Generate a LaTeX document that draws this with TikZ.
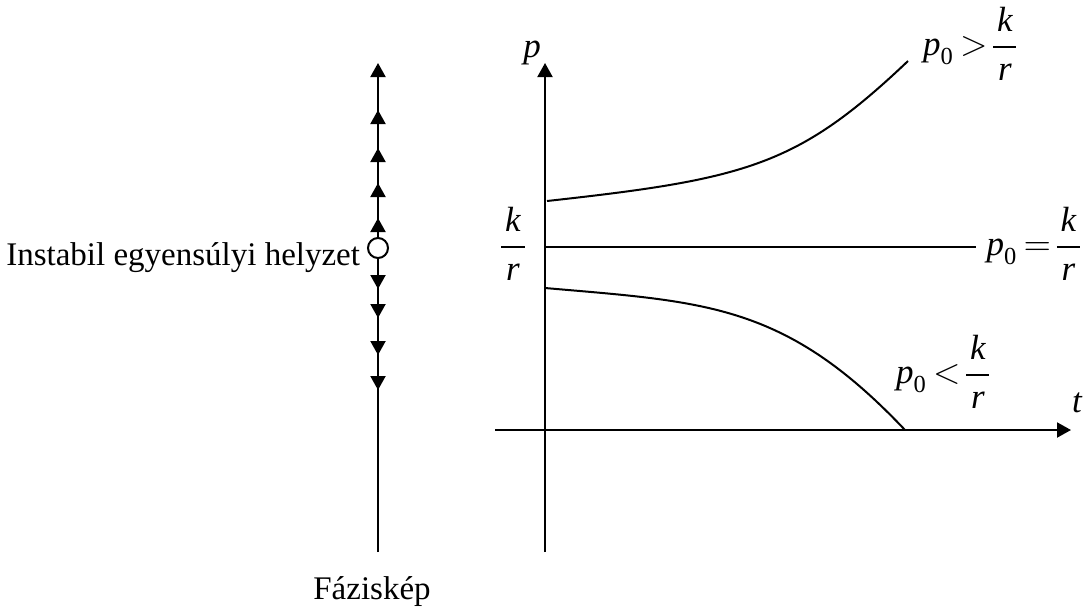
\documentclass[tikz,border=0pt]{standalone}
\usepackage{amsmath}
\usepackage{fontspec}
\setmainfont{Liberation Serif}
\newfontface\itface{Liberation Serif Italic}
\usepackage{tikz}
\usetikzlibrary{arrows.meta,positioning}
\thickmuskip=3mu\relax
\nulldelimiterspace=0pt\relax
\newcommand{\iv}[1]{\text{\itface #1}}
\newcommand{\kperr}{\dfrac{\kern1.5pt\iv{k}\kern1.5pt}{\iv{r}}}
\newcommand{\pnull}{\iv{p}_{\text{0}}}

\begin{document}
\begin{tikzpicture}[
  x=0.4pt, y=-0.4pt,
  line width=0.8pt,
  lbl/.style={font=\fontsize{13.2}{16}\selectfont, inner sep=0pt},
  mlbl/.style={font=\fontsize{14}{17}\selectfont, inner sep=0pt},
  arr/.style={-{Triangle[length=5.6pt,width=6pt]}},
  eqpt/.style={circle, draw, fill=white, inner sep=0pt, minimum size=8pt},
]
\useasboundingbox (0,0) rectangle (1085,607);
% phase line
\coordinate (bot) at (378,552);
\node[eqpt] (eq) at (378,248) {};
\foreach \y [count=\i] in {63,110,148,183,218} \coordinate (up\i) at (378,\y);
\foreach \y [count=\i] in {289,318,355,390} \coordinate (dn\i) at (378,\y);
\draw (bot) -- (eq.south);
\foreach \i in {1,...,5} \draw[arr] (eq.north) -- (up\i);
\foreach \i in {1,...,4} \draw[arr] (eq.south) -- (dn\i);
\node[lbl, anchor=base east] (unst) at (361,265) {Instabil egyensúlyi helyzet};
\node[lbl, anchor=base] (phase) at (372,599) {Fáziskép};
% axes
\coordinate (pbot) at (545,552);
\coordinate (ptop) at (545,63);
\coordinate (tl) at (495,430);
\coordinate (tr) at (1071,430);
\draw[arr] (pbot) -- (ptop);
\draw[arr] (tl) -- (tr);
\node[mlbl, anchor=base] (plab) at (532,57) {$\iv{p}$};
\node[mlbl, anchor=base] (tlab) at (1077,412) {$\iv{t}$};
% equilibrium level
\node[mlbl] (kr) at (513,244) {$\kperr$};
\coordinate (eqs) at (545,247);
\node[mlbl, anchor=east] (midlab) at (1081,244) {$\pnull=\kperr$};
\draw (eqs) -- ([xshift=-4pt]midlab.west |- eqs);
% solutions
\coordinate (u0) at (547,201);
\coordinate (u1) at (908,61);
\draw (u0) .. controls (747,179) and (798,165.5) .. (u1);
\node[mlbl, anchor=west] (uplab) at (922,44) {$\pnull>\kperr$};
\coordinate (l0) at (545,288);
\coordinate (l1) at (905,430);
\draw (l0) .. controls (705,302) and (785,303) .. (l1);
\node[mlbl, anchor=west] (lolab) at (895,372) {$\pnull<\kperr$};
\end{tikzpicture}
\end{document}
